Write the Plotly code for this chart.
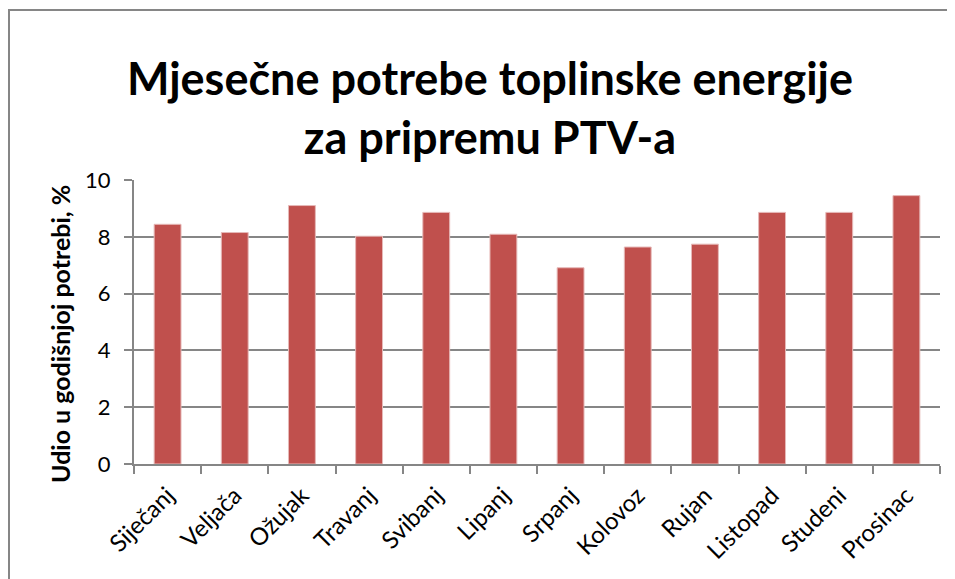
import plotly.graph_objects as go

# mjeseci i udio u godisnjoj potrebi (%)
months = ['Siječanj', 'Veljača', 'Ožujak', 'Travanj', 'Svibanj', 'Lipanj',
          'Srpanj', 'Kolovoz', 'Rujan', 'Listopad', 'Studeni', 'Prosinac']
share = [8.44, 8.15, 9.10, 8.02, 8.86, 8.09, 6.91, 7.64, 7.74, 8.86, 8.86, 9.45]
y_ticks = [0, 2, 4, 6, 8, 10]

title_text = 'Mjesečne potrebe toplinske energije<br>za pripremu PTV-a'
y_title = 'Udio u godišnjoj potrebi, %'

# page sits 8px in from the window corner, so figure is 8px smaller
W, H = 947, 571
ml, mr, mt, mb = 126, 15, 172, 115
pw, ph = W - ml - mr, H - mt - mb

def px(x):
    return (x - ml) / pw

def py(y):
    return (H - mb - y) / ph

fig = go.Figure()
fig.add_trace(go.Bar(
    x=months, y=share,
    marker=dict(color='#c0504d', line=dict(color='#e6b9b8', width=1)),
    width=0.4,
))

fig.update_layout(
    width=W, height=H,
    margin=dict(l=ml, r=mr, t=mt, b=mb),
    plot_bgcolor='white', paper_bgcolor='white',
    font=dict(family='Lato, Open Sans, sans-serif', color='black'),
    showlegend=False,
    title=dict(text='<b>' + title_text + '</b>', x=482 / W, xanchor='center',
               y=1 - 87 / H, yanchor='middle',
               font=dict(size=45, family='Lato, sans-serif', color='black')),
    shapes=[dict(type='rect', xref='paper', yref='paper',
                 x0=px(1), x1=px(965), y0=py(600), y1=py(2),
                 line=dict(color='#868686', width=2), layer='below')],
    annotations=[dict(text='<b>' + y_title + '</b>', textangle=-90,
                      xref='paper', yref='paper', x=px(52), y=py(326),
                      xanchor='center', yanchor='middle', showarrow=False,
                      font=dict(size=25, color='black'))],
)

fig.update_xaxes(
    showline=True, linecolor='#868686', linewidth=2,
    ticks='outside', ticklen=8, tickcolor='#868686', tickwidth=2,
    tickson='boundaries', tickangle=-45, ticklabelstandoff=6,
    tickfont=dict(size=24), showgrid=False,
)
fig.update_yaxes(
    range=[0, 10], tickvals=y_ticks,
    showline=True, linecolor='#868686', linewidth=2,
    ticks='outside', ticklen=8, tickcolor='#868686', tickwidth=2,
    showgrid=True, gridcolor='#868686', gridwidth=2, ticklabelstandoff=9,
    zeroline=False, tickfont=dict(size=22),
)

fig.write_html('out.html')
